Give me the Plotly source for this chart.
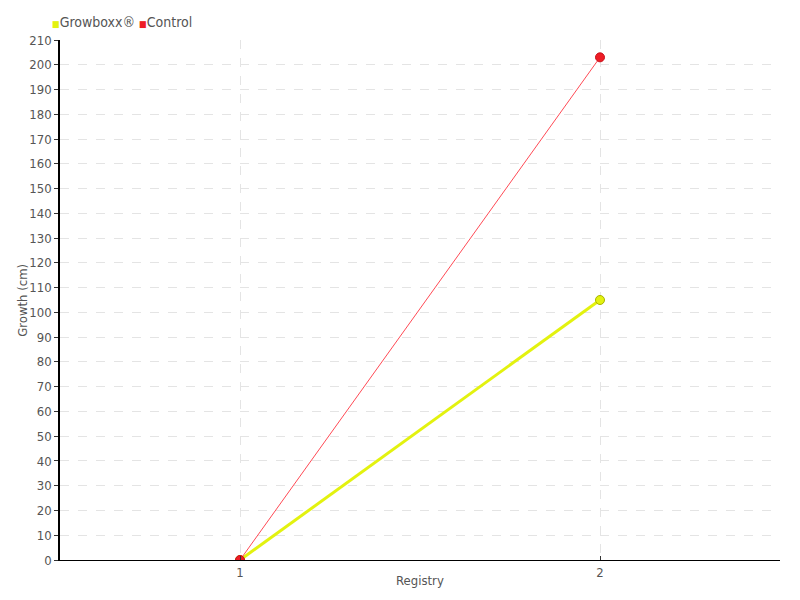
import plotly.graph_objects as go

# ------Data--------
registry = [1, 2]
growboxx = [0, 105]
control = [0, 203]
y_ticks = list(range(0, 211, 10))

yellow = '#e3f20f'
red = '#ee1c25'
font = dict(family="DejaVu Sans Condensed, Liberation Sans Narrow, Arial Narrow, sans-serif",
            size=13, color='#555555')

fig = go.Figure()
fig.add_trace(go.Scatter(x=registry, y=growboxx, name='Growboxx®', mode='lines+markers',
                         line=dict(color=yellow, width=3),
                         marker=dict(size=9, color=yellow, line=dict(color='#a8b400', width=1))))
fig.add_trace(go.Scatter(x=registry, y=control, name='Control', mode='lines+markers',
                         line=dict(color='#ff4a55', width=1),
                         marker=dict(size=9, color=red, line=dict(color='#c8101a', width=1))))

# --------Axes-----------
fig.update_xaxes(range=[0.5, 2.5], tickvals=registry, ticktext=[str(v) for v in registry],
                 showline=True, linewidth=1, linecolor='black', ticks='inside', ticklen=4,
                 tickcolor='#333', showgrid=True, gridcolor='#e4e4e4', griddash='dash',
                 zeroline=False, automargin=False)
fig.update_yaxes(range=[0, 210], tickvals=y_ticks, showline=True, linewidth=1.5, linecolor='black',
                 ticks='outside', ticklen=4, tickcolor='#333', showgrid=True, gridcolor='#e4e4e4',
                 griddash='dash', zeroline=False, automargin=False)

# --------Axis titles and legend as annotations-----------
fig.add_annotation(x=0.5, y=-0.04, xref='paper', yref='paper', xanchor='center', yanchor='middle',
                   showarrow=False, text='Registry')
fig.add_annotation(x=-0.053, y=0.5, xref='paper', yref='paper', xanchor='center', yanchor='middle',
                   showarrow=False, textangle=-90, text='Growth (cm)')
fig.add_annotation(x=-0.014, y=1.035, xref='paper', yref='paper', xanchor='left', yanchor='middle',
                   showarrow=False, font=dict(size=14),
                   text=f"<span style='color:{yellow};font-size:9px'>■</span>Growboxx® "
                        f"<span style='color:{red};font-size:9px'>■</span>Control")

# page body has an 8px margin, so the figure is sized to fit the 800x600 window
fig.update_layout(
    width=792, height=592,
    showlegend=False,
    font=font,
    plot_bgcolor='white', paper_bgcolor='white',
    margin=dict(l=52, r=20, t=32, b=40),
)

fig.write_html("out.html")
